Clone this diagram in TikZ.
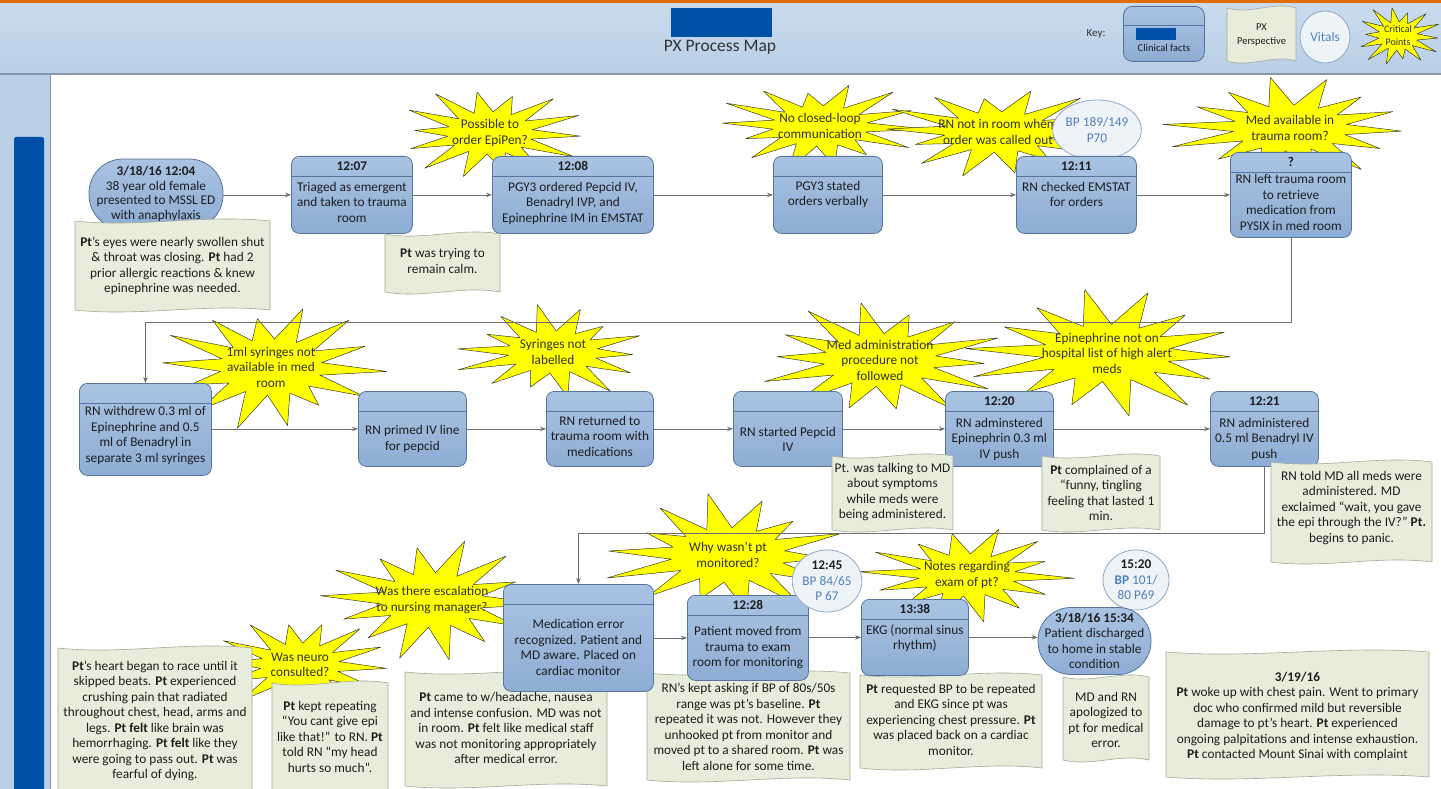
\documentclass[tikz,border=0pt]{standalone}
\usepackage{fontspec}
\setmainfont{Carlito}
\usetikzlibrary{arrows.meta,calc,shapes.geometric}
\definecolor{proctop}{HTML}{A9C3E2}
\definecolor{procbot}{HTML}{8EADD4}
\definecolor{boxline}{HTML}{56759C}
\definecolor{textdark}{HTML}{1E1E1E}
\definecolor{notefill}{HTML}{E8ECDA}
\definecolor{noteline}{HTML}{A6AA9A}
\definecolor{burstfill}{HTML}{FFFF00}
\definecolor{burstline}{HTML}{3C3C28}
\definecolor{vitfill}{HTML}{EEF3F8}
\definecolor{vitline}{HTML}{8FA8C6}
\definecolor{vittext}{HTML}{4F81BD}
\definecolor{connc}{HTML}{6E6E6E}
\definecolor{hdrtop}{HTML}{CADBEE}
\definecolor{hdrbot}{HTML}{B9CFE6}
\definecolor{darkblue}{HTML}{0050A8}
\definecolor{topline}{HTML}{E36C0A}
\definecolor{hdrrule}{HTML}{8797A8}
\tikzset{
  procbox/.style={draw=boxline, line width=0.8pt, rounded corners=8pt, top color=proctop, bottom color=procbot},
  sepline/.style={draw=boxline, line width=0.8pt},
  hdrtext/.style={font=\fontsize{13.3}{15.5}\selectfont\bfseries, text=textdark, inner sep=0pt},
  boxtext/.style={font=\fontsize{13.3}{15.5}\selectfont, text=textdark, align=center, inner sep=0pt},
  notesty/.style={fill=notefill, draw=noteline, line width=0.6pt},
  notetext/.style={font=\fontsize{13.3}{15.5}\selectfont, text=textdark, align=center, inner sep=0pt},
  burst/.style={fill=burstfill, draw=burstline, line width=0.5pt, line join=round},
  bursttext/.style={font=\fontsize{13.3}{15.5}\selectfont, text=black!80, align=center, inner sep=0pt},
  vital/.style={ellipse, fill=vitfill, draw=vitline, line width=0.8pt, inner sep=0pt, align=center, text=vittext, font=\fontsize{13.3}{15.5}\selectfont},
  conn/.style={draw=connc, line width=0.7pt, -{Stealth[length=6pt,width=4.5pt]}},
}
% process box: name, x, y, w, h, header, body, body centre y
\newcommand\pxbox[8]{%
  \node[procbox, minimum width=#4pt, minimum height=#5pt, anchor=north west] (#1) at (#2,#3) {};
  \draw[sepline] ([yshift=-20pt]#1.north west) -- ([yshift=-20pt]#1.north east);
  \node[hdrtext] at ([yshift=-10pt]#1.north) {#6};
  \node[boxtext] at (#1.north |- 0,#8) {#7};
}
% starburst: [node opts], name, cx, cy, rx, ry, text
\newcommand\pxburst[7][]{%
  \filldraw[burst] plot[samples at={0,...,27}, variable=\t]
    ({#3+#5*(0.44+(1-mod(\t,2))*(0.28+0.28*abs(sin(\t*67+#3))))*cos(\t*12.857+4)},
     {#4+#6*(0.44+(1-mod(\t,2))*(0.28+0.28*abs(sin(\t*67+#3))))*sin(\t*12.857+4)}) -- cycle;
  \node[bursttext,#1] (#2) at (#3,#4) {#7};
}
% note: [node opts], name, x1, y1, x2, y2, text centre y, text
\newcommand\pxnote[8][]{%
  \filldraw[notesty] (#3,#4) .. controls ({(2*#3+#5)/3},{#4+7}) and ({(#3+2*#5)/3},{#4-7}) .. (#5,#4)
    -- (#5,#6) .. controls ({(#3+2*#5)/3},{#6-7}) and ({(2*#3+#5)/3},{#6+7}) .. (#3,#6) -- cycle;
  \node[notetext,#1] (#2) at ({(#3+#5)/2},#7) {#8};
}
% vital: name, cx, cy, width, height, text
\newcommand\pxvital[6]{%
  \node[vital, minimum width=#4pt, minimum height=#5pt] (#1) at (#2,#3) {#6};
}
\begin{document}
\begin{tikzpicture}[x=1pt,y=-1pt]
\useasboundingbox (0,0) rectangle (1441,789);
\fill[white] (0,0) rectangle (1441,789);
% header and side bar
\shade[top color=hdrtop, bottom color=hdrbot] (0,3) rectangle (1441,73);
\fill[topline] (0,0) rectangle (1441,3);
\fill[hdrbot] (0,75) rectangle (50,789);
\draw[hdrrule, line width=2pt] (0,74) -- (1441,74);
\draw[hdrrule, line width=1pt] (50,75) -- (50,789);
\fill[darkblue, rounded corners=2pt] (14,137) rectangle (44,800);
\fill[darkblue] (671,8) rectangle (772,37);
\node[font=\fontsize{17.5}{20}\selectfont, text=black!80] (title) at (720,47) {PX Process Map};
% key
\node[font=\fontsize{11}{13}\selectfont, text=black!80] (keylab) at (1096,34) {Key:};
\node[procbox, rounded corners=9pt, minimum width=81pt, minimum height=55pt, anchor=north west] (keybox) at (1123,6) {};
\draw[sepline] ([yshift=-19pt]keybox.north west) -- ([yshift=-19pt]keybox.north east);
\fill[darkblue] (1136,28) rectangle (1176,40);
\node[font=\fontsize{10.5}{12}\selectfont, text=textdark] (keyclin) at (1164,48) {Clinical facts};
\pxnote[font=\fontsize{10.5}{14}\selectfont]{keynote}{1227}{8}{1296}{61}{35}{PX\\Perspective}
\pxvital{keyvit}{1325}{37}{50}{52}{Vitals}
\pxburst[font=\fontsize{10}{13}\selectfont]{keycrit}{1398}{36}{44}{32}{Critical\\Points}
% critical points
\pxburst{b1}{490}{133}{97}{48}{Possible to\\order EpiPen?}
\pxburst{b2}{820}{126}{108}{46}{No closed-loop\\communication}
\pxburst{b3}{998}{132}{122}{46}{RN not in room whem\\order was called out}
\pxburst{b4}{1290}{128}{130}{52}{Med available in\\trauma room?}
\pxburst{b5}{271}{367}{116}{64}{1ml syringes not\\available in med\\room}
\pxburst{b6}{553}{352}{102}{48}{Syringes not\\labelled}
\pxburst{b7}{880}{360}{128}{60}{Med administration\\procedure not\\followed}
\pxburst{b8}{1107}{353}{146}{65}{Epinephrine not on\\hospital list of high alert\\meds}
\pxburst{b9}{728}{555}{130}{62}{Why wasn’t pt\\monitored?}
\pxburst{b10}{432}{600}{114}{62}{Was there escalation\\to nursing manager?}
\pxburst{b11}{300}{665}{90}{50}{Was neuro\\consulted?}
\pxburst{b12}{967}{575}{110}{48}{Notes regarding\\exam of pt?}
% vitals behind boxes
\pxvital{v1}{1097}{130}{80}{60}{BP 189/149\\P70}
\pxvital{v3}{1136}{580}{66}{60}{\textcolor{textdark}{\textbf{15:20}}\\\textbf{BP} 101/\\80 P69}
% connectors
\coordinate (turn1) at (0,322);
\coordinate (turn2) at (0,533);
% notes that lie behind the last row of steps
\pxnote{n8}{405}{672}{607}{786}{728}{\textbf{Pt} came to w/headache, nausea\\and intense confusion. MD was not\\in room. \textbf{Pt} felt like medical staff\\was not monitoring appropriately\\after medical error.}
\pxnote{n9}{647}{673}{850}{780}{727}{RN’s kept asking if BP of 80s/50s\\range was pt’s baseline. \textbf{Pt}\\repeated it was not. However they\\unhooked pt from monitor and\\moved pt to a shared room. \textbf{Pt} was\\left alone for some time.}
\pxnote{n10}{860}{675}{1042}{768}{719.5}{\textbf{Pt} requested BP to be repeated\\and EKG since pt was\\experiencing chest pressure. \textbf{Pt}\\was placed back on a cardiac\\monitor.}
\pxnote{n11}{1063}{677}{1149}{760}{720}{MD and RN\\apologized to\\pt for medical\\error.}
% process steps
\node[procbox, rounded corners=34pt, minimum width=134pt, minimum height=70pt, boxtext, font=\fontsize{13.3}{14.5}\selectfont] (start) at (156,194) {\textbf{3/18/16 12:04}\\38 year old female\\presented to MSSL ED\\with anaphylaxis};
\pxbox{t1207}{291}{156}{121}{77}{12:07}{Triaged as emergent\\and taken to trauma\\room}{202}
\pxbox{t1208}{492}{156}{161}{77}{12:08}{PGY3 ordered Pepcid IV,\\Benadryl IVP, and\\Epinephrine IM in EMSTAT}{203}
\pxbox{pgy3}{773}{156}{109}{77}{}{PGY3 stated\\orders verbally}{194.5}
\pxbox{t1211}{1016}{156}{120}{77}{12:11}{RN checked EMSTAT\\for orders}{194.5}
\pxbox{q}{1230}{152}{121}{85}{?}{RN left trauma room\\to retrieve\\medication from\\PYSIX in med room}{202.5}
\pxbox{withdrew}{79}{383}{132}{92}{}{RN withdrew 0.3 ml of\\Epinephrine and 0.5\\ml of Benadryl in\\separate 3 ml syringes}{435.5}
\pxbox{primed}{358}{391}{108}{75}{}{RN primed IV line\\for pepcid}{439}
\pxbox{returned}{546}{391}{107}{75}{}{RN returned to\\trauma room with\\medications}{436}
\pxbox{pepcid}{733}{391}{109}{75}{}{RN started Pepcid\\IV}{439.5}
\pxbox{t1220}{945}{391}{108}{75}{12:20}{RN adminstered\\Epinephrin 0.3 ml\\IV push}{439}
\pxbox{t1221}{1210}{391}{108}{75}{12:21}{RN administered\\0.5 ml Benadryl IV\\push}{439}
\pxbox{mederr}{503}{584}{150}{107}{}{Medication error\\recognized. Patient and\\MD aware. Placed on\\cardiac monitor}{647.5}
\pxbox{t1228}{687}{595}{121}{85}{12:28}{Patient moved from\\trauma to exam\\room for monitoring}{648}
\pxbox{t1338}{861}{599}{107}{76}{13:38}{EKG (normal sinus\\rhythm)}{638}
\node[procbox, rounded corners=33pt, minimum width=113pt, minimum height=67pt, boxtext] (end) at (1094.5,641) {\textbf{3/18/16 15:34}\\Patient discharged\\to home in stable\\condition};
% connectors
\draw[conn] (start.east |- t1207.west) -- (t1207.west);
\draw[conn] (t1207.east) -- (t1207.east -| t1208.west);
\draw[conn] (t1208.east) -- (t1208.east -| pgy3.west);
\draw[conn] (pgy3.east) -- (pgy3.east -| t1211.west);
\draw[conn] (t1211.east) -- (t1211.east -| q.west);
\draw[conn] (q.south) -- (q.south |- turn1) -| (withdrew.north);
\draw[conn] (withdrew.east |- primed.west) -- (primed.west);
\draw[conn] (primed.east) -- (primed.east -| returned.west);
\draw[conn] (returned.east) -- (returned.east -| pepcid.west);
\draw[conn] (pepcid.east) -- (pepcid.east -| t1220.west);
\draw[conn] (t1220.east) -- (t1220.east -| t1221.west);
\draw[conn] (t1221.south) -- (t1221.south |- turn2) -| (mederr.north);
\draw[conn] (mederr.east) -- (mederr.east -| t1228.west);
\draw[conn] (t1228.east |- t1338.west) -- (t1338.west);
\draw[conn] (t1338.east) -- (t1338.east -| end.west);
% vitals in front
\pxvital{v2}{827}{581}{68}{62}{\textcolor{textdark}{\textbf{12:45}}\\BP 84/65\\P 67}
% patient perspective notes
\pxnote{n1}{75}{221}{270}{310}{266}{\textbf{Pt}’s eyes were nearly swollen shut\\\& throat was closing. \textbf{Pt} had 2\\prior allergic reactions \& knew\\epinephrine was needed.}
\pxnote{n2}{385}{234}{500}{292}{261}{\textbf{Pt} was trying to\\remain calm.}
\pxnote{n3}{832}{456}{953}{530}{492}{Pt. was talking to MD\\about symptoms\\while meds were\\being administered.}
\pxnote{n4}{1042}{456}{1160}{530}{493}{\textbf{Pt} complained of a\\“funny, tingling\\feeling that lasted 1\\min.}
\pxnote{n5}{1271}{462}{1432}{562}{508}{RN told MD all meds were\\administered. MD\\exclaimed “wait, you gave\\the epi through the IV?” \textbf{Pt.}\\begins to panic.}
\pxnote{n6}{58}{648}{252}{798}{721}{\textbf{Pt}’s heart began to race until it\\skipped beats. \textbf{Pt} experienced\\crushing pain that radiated\\throughout chest, head, arms and\\legs. \textbf{Pt felt} like brain was\\hemorrhaging. \textbf{Pt felt} like they\\were going to pass out. \textbf{Pt} was\\fearful of dying.}
\pxnote{n7}{272}{683}{388}{798}{736.5}{\textbf{Pt} kept repeating\\“You cant give epi\\like that!” to RN. \textbf{Pt}\\told RN “my head\\hurts so much”.}
\pxnote{n12}{1166}{652}{1429}{777}{716.5}{\textbf{3/19/16}\\\textbf{Pt} woke up with chest pain. Went to primary\\doc who confirmed mild but reversible\\damage to pt’s heart. \textbf{Pt} experienced\\ongoing palpitations and intense exhaustion.\\\textbf{Pt} contacted Mount Sinai with complaint}
\end{tikzpicture}
\end{document}
